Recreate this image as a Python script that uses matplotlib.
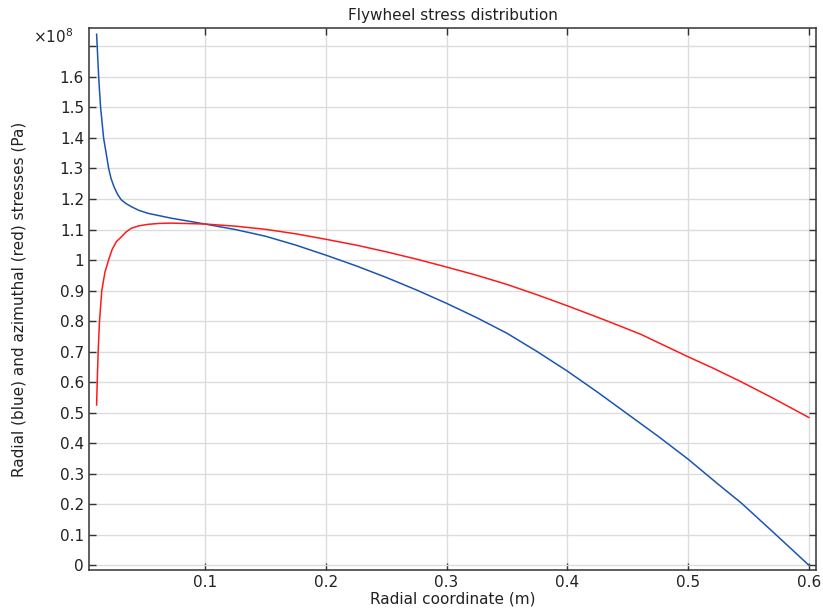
import matplotlib
matplotlib.use("Agg")
import matplotlib.pyplot as plt
from matplotlib.ticker import FuncFormatter

# --- data (stress in units of 1e8 Pa) ---
r_radial = [0.0101, 0.0106, 0.0118, 0.0134, 0.0159, 0.0201, 0.0220, 0.0245,
            0.0275, 0.0306, 0.0345, 0.0388, 0.0450, 0.0527, 0.0721, 0.0942,
            0.125, 0.150, 0.175, 0.200, 0.225, 0.250, 0.275, 0.300,
            0.325, 0.350, 0.375, 0.400, 0.425, 0.450, 0.475, 0.500,
            0.525, 0.544, 0.570, 0.600]
s_radial = [1.740, 1.700, 1.600, 1.500, 1.400, 1.300, 1.268, 1.240,
            1.215, 1.197, 1.185, 1.175, 1.163, 1.153, 1.137, 1.122,
            1.100, 1.078, 1.049, 1.016, 0.981, 0.943, 0.902, 0.858,
            0.811, 0.760, 0.700, 0.636, 0.567, 0.495, 0.423, 0.3475,
            0.265, 0.204, 0.110, 0.0]

r_azim = [0.0101, 0.0106, 0.0114, 0.0125, 0.0144, 0.0170, 0.0200, 0.0230,
          0.0264, 0.0306, 0.0345, 0.0388, 0.0450, 0.0527, 0.0620, 0.0721,
          0.100, 0.125, 0.150, 0.175, 0.200, 0.225, 0.250, 0.275,
          0.300, 0.325, 0.350, 0.375, 0.400, 0.430, 0.461, 0.500,
          0.520, 0.544, 0.570, 0.600]
s_azim = [0.525, 0.600, 0.700, 0.800, 0.900, 0.960, 1.000, 1.035,
          1.060, 1.076, 1.092, 1.104, 1.112, 1.117, 1.120, 1.121,
          1.118, 1.111, 1.1006, 1.086, 1.068, 1.049, 1.027, 1.003,
          0.977, 0.950, 0.920, 0.886, 0.850, 0.805, 0.7563, 0.683,
          0.647, 0.601, 0.548, 0.484]

x_ticks = [0.1, 0.2, 0.3, 0.4, 0.5, 0.6]
y_ticks = [0, 0.1, 0.2, 0.3, 0.4, 0.5, 0.6, 0.7, 0.8, 0.9, 1.0,
           1.1, 1.2, 1.3, 1.4, 1.5, 1.6, 1.7]
scale = 1e8

plt.rcParams['font.family'] = ['DejaVu Sans']

fig = plt.figure(figsize=(8.23, 6.12), dpi=100)
ax = fig.add_axes([0.108, 0.0686, 0.8835, 0.8854])

ax.plot(r_radial, [v * scale for v in s_radial], color='#1a56b0', lw=1.1)
ax.plot(r_azim, [v * scale for v in s_azim], color='#ff1a1a', lw=1.1)

ax.set_xlim(0.0037, 0.606)
ax.set_ylim(-0.016 * scale, 1.76 * scale)
ax.set_xticks(x_ticks)
ax.set_yticks([t * scale for t in y_ticks])


def y_fmt(v, pos):
    val = round(v / scale, 3)
    if val > 1.65:
        return ''
    return '%g' % val


ax.yaxis.set_major_formatter(FuncFormatter(y_fmt))
ax.xaxis.set_major_formatter(FuncFormatter(lambda v, p: '%g' % round(v, 3)))

ax.grid(True, color='#dcdcdc', lw=1)
ax.set_axisbelow(True)
ax.tick_params(direction='in', top=True, right=True, length=5,
               width=1, color='#333333', labelsize=11, labelcolor='#222222')
for sp in ax.spines.values():
    sp.set_color('#333333')
    sp.set_linewidth(1.1)

ax.text(-0.022, 0.985, r'$\times10^{8}$', transform=ax.transAxes,
        ha='right', va='center', fontsize=11, color='#222222')

ax.set_title('Flywheel stress distribution', fontsize=11, color='#222222', pad=6)
ax.set_xlabel('Radial coordinate (m)', fontsize=11, color='#222222', labelpad=1)
ax.set_ylabel('Radial (blue) and azimuthal (red) stresses (Pa)', fontsize=11,
              color='#222222', labelpad=24)

fig.savefig('out.png', dpi=100)
